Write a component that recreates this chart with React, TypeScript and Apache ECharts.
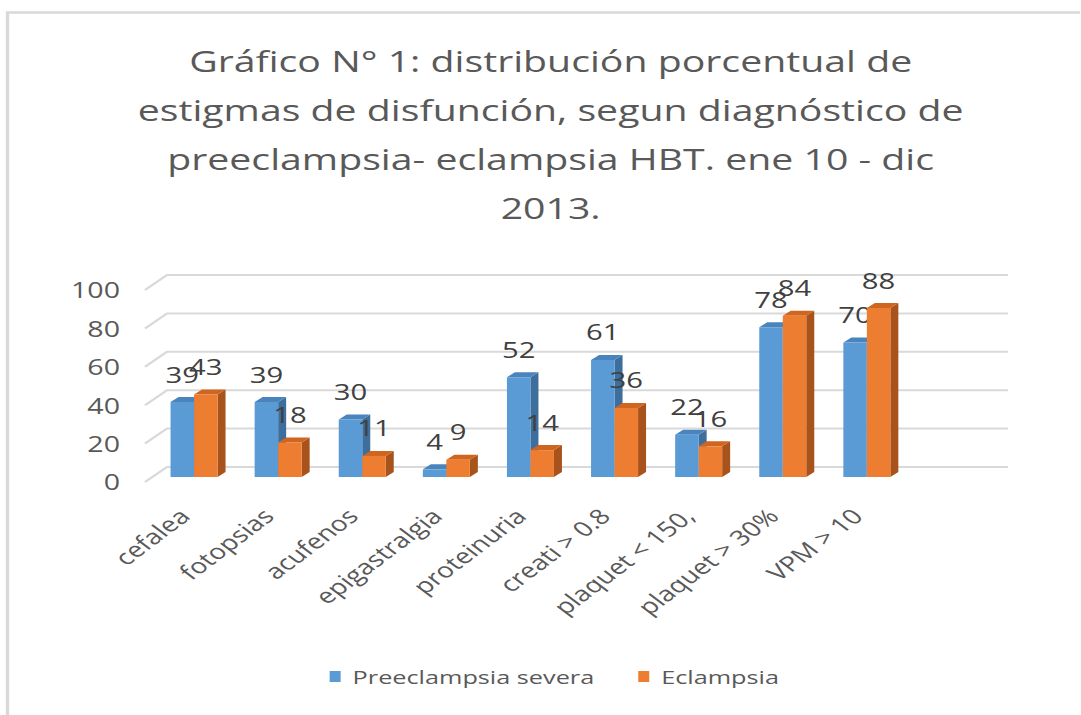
import React, { useEffect, useRef } from "react";
import * as echarts from "echarts";

// ---- data ----
const titleLines = [
  "Gráfico N° 1: distribución porcentual de",
  "estigmas de disfunción, segun diagnóstico de",
  "preeclampsia- eclampsia HBT. ene 10 - dic",
  "2013.",
];
const categories = [
  "cefalea",
  "fotopsias",
  "acufenos",
  "epigastralgia",
  "proteinuria",
  "creati > 0.8",
  "plaquet < 150,",
  "plaquet > 30%",
  "VPM > 10",
];
const preeclampsiaSevera = [39, 39, 30, 4, 52, 61, 22, 78, 70];
const eclampsia = [43, 18, 11, 9, 14, 36, 16, 84, 88];
const yTicks = [0, 20, 40, 60, 80, 100];
const seriesNames = ["Preeclampsia severa", "Eclampsia"];

// ---- style / layout (reference pixels; x divided by S) ----
const S = 1.33;
const W = Math.floor(1081 / S);
const H = 715;
const FONT = "'Open Sans', 'Noto Sans', sans-serif";
const BLUE = { front: "#5B9BD5", side: "#3D6E9C", top: "#4A84BC" };
const ORANGE = { front: "#ED7D31", side: "#A8531B", top: "#CF651F" };
const GRID_LEFT = 145;
const GRID_W = 841;
const GRID_TOP = 290;
const GRID_H = 192;
const BACK_DX = 22;
const BACK_DY = 15;
const BAR_DX = 7;
const BAR_DY = 5;
const DEPTH_DX = 8;
const DEPTH_DY = 5;
const BAR_W = 23.5;

function barRenderer(side: number, colors: { front: string; side: string; top: string }) {
  return (params: any, api: any) => {
    const cat = api.value(0);
    const val = api.value(1);
    const base = api.coord([cat, 0]);
    const top = api.coord([cat, val]);
    const cx = base[0] + BAR_DX / S;
    const bw = BAR_W / S;
    const xl = side === 0 ? cx - bw : cx;
    const xr = xl + bw;
    const yb = base[1] - BAR_DY;
    const yt = top[1] - BAR_DY;
    const dx = DEPTH_DX / S;
    const dy = DEPTH_DY;
    return {
      type: "group",
      children: [
        {
          type: "polygon",
          shape: { points: [[xr, yt], [xr + dx, yt - dy], [xr + dx, yb - dy], [xr, yb]] },
          style: { fill: colors.side },
        },
        {
          type: "polygon",
          shape: { points: [[xl, yt], [xl + dx, yt - dy], [xr + dx, yt - dy], [xr, yt]] },
          style: { fill: colors.top },
        },
        {
          type: "rect",
          shape: { x: xl, y: yt, width: bw, height: yb - yt },
          style: { fill: colors.front },
        },
        {
          type: "text",
          z2: 10,
          style: {
            text: String(val),
            x: (xl + xr) / 2,
            y: yt - 28,
            align: "center",
            verticalAlign: "middle",
            fontSize: 22,
            fontFamily: FONT,
            fill: "#404040",
          },
        },
      ],
    };
  };
}

function gridRenderer(params: any, api: any) {
  const v = api.value(1);
  const p = api.coord([0, v]);
  const cs = params.coordSys;
  const x0 = cs.x;
  const x1 = cs.x + cs.width;
  const y = p[1];
  const bdx = BACK_DX / S;
  return {
    type: "polyline",
    shape: { points: [[x0, y], [x0 + bdx, y - BACK_DY], [x1 + bdx, y - BACK_DY]] },
    style: { stroke: "#D9D9D9", lineWidth: 2, fill: "none" },
  };
}

export default function App() {
  const ref = useRef<HTMLDivElement>(null);
  useEffect(() => {
    if (!ref.current) return;
    const chart = echarts.init(ref.current, null, { renderer: "svg" });
    const axisCats = [...categories, ""];
    chart.setOption({
      animation: false,
      backgroundColor: "#ffffff",
      title: {
        text: titleLines.join("\n"),
        left: 544 / S,
        textAlign: "center",
        top: 31,
        textStyle: {
          fontSize: 29.5,
          fontWeight: "normal",
          color: "#595959",
          fontFamily: FONT,
          lineHeight: 49,
        },
      },
      legend: {
        data: seriesNames,
        left: 323 / S,
        top: 662,
        icon: "rect",
        itemWidth: 11 / S,
        itemHeight: 11,
        itemGap: 33,
        textStyle: { fontSize: 19, color: "#595959", fontFamily: FONT, padding: [0, 0, 0, 4] },
      },
      grid: [
        { left: GRID_LEFT / S, width: GRID_W / S, top: GRID_TOP, height: GRID_H },
        { left: (GRID_LEFT - 3) / S, width: GRID_W / S, top: GRID_TOP, height: GRID_H },
      ],
      xAxis: [
        {
          type: "category",
          gridIndex: 0,
          data: axisCats,
          axisLine: { show: false },
          axisTick: { show: false },
          axisLabel: { show: false },
          splitLine: { show: false },
        },
        {
          type: "category",
          gridIndex: 1,
          data: axisCats,
          axisLine: { show: false },
          axisTick: { show: false },
          splitLine: { show: false },
          axisLabel: {
            interval: 0,
            rotate: 45,
            margin: 30,
            fontSize: 21,
            color: "#595959",
            fontFamily: FONT,
          },
        },
      ],
      yAxis: [
        {
          type: "value",
          gridIndex: 0,
          min: 0,
          max: 100,
          interval: 20,
          axisLine: { show: false },
          axisTick: { show: false },
          splitLine: { show: false },
          axisLabel: { fontSize: 21.5, color: "#595959", fontFamily: FONT, margin: 25 / S },
        },
        {
          type: "value",
          gridIndex: 1,
          min: 0,
          max: 100,
          interval: 20,
          show: false,
        },
      ],
      graphic: [
        {
          type: "rect",
          shape: { x: 7.5 / S, y: 12.5, width: W + 20, height: H + 20 },
          style: { fill: "none", stroke: "#D9D9D9", lineWidth: 2.5 },
          silent: true,
        },
      ],
      series: [
        {
          type: "custom",
          name: "grid",
          xAxisIndex: 0,
          yAxisIndex: 0,
          clip: false,
          z: 1,
          silent: true,
          renderItem: gridRenderer,
          data: yTicks.map((v) => [0, v]),
        },
        {
          type: "custom",
          name: seriesNames[0],
          xAxisIndex: 0,
          yAxisIndex: 0,
          clip: false,
          z: 2,
          itemStyle: { color: BLUE.front },
          renderItem: barRenderer(0, BLUE),
          data: preeclampsiaSevera.map((v, i) => [i, v]),
        },
        {
          type: "custom",
          name: seriesNames[1],
          xAxisIndex: 0,
          yAxisIndex: 0,
          clip: false,
          z: 3,
          itemStyle: { color: ORANGE.front },
          renderItem: barRenderer(1, ORANGE),
          data: eclampsia.map((v, i) => [i, v]),
        },
      ],
    });
    return () => chart.dispose();
  }, []);
  return (
    <div
      ref={ref}
      style={{
        position: "absolute",
        left: 0,
        top: 0,
        width: W,
        height: H,
        transform: `scaleX(${S})`,
        transformOrigin: "0 0",
      }}
    />
  );
}
